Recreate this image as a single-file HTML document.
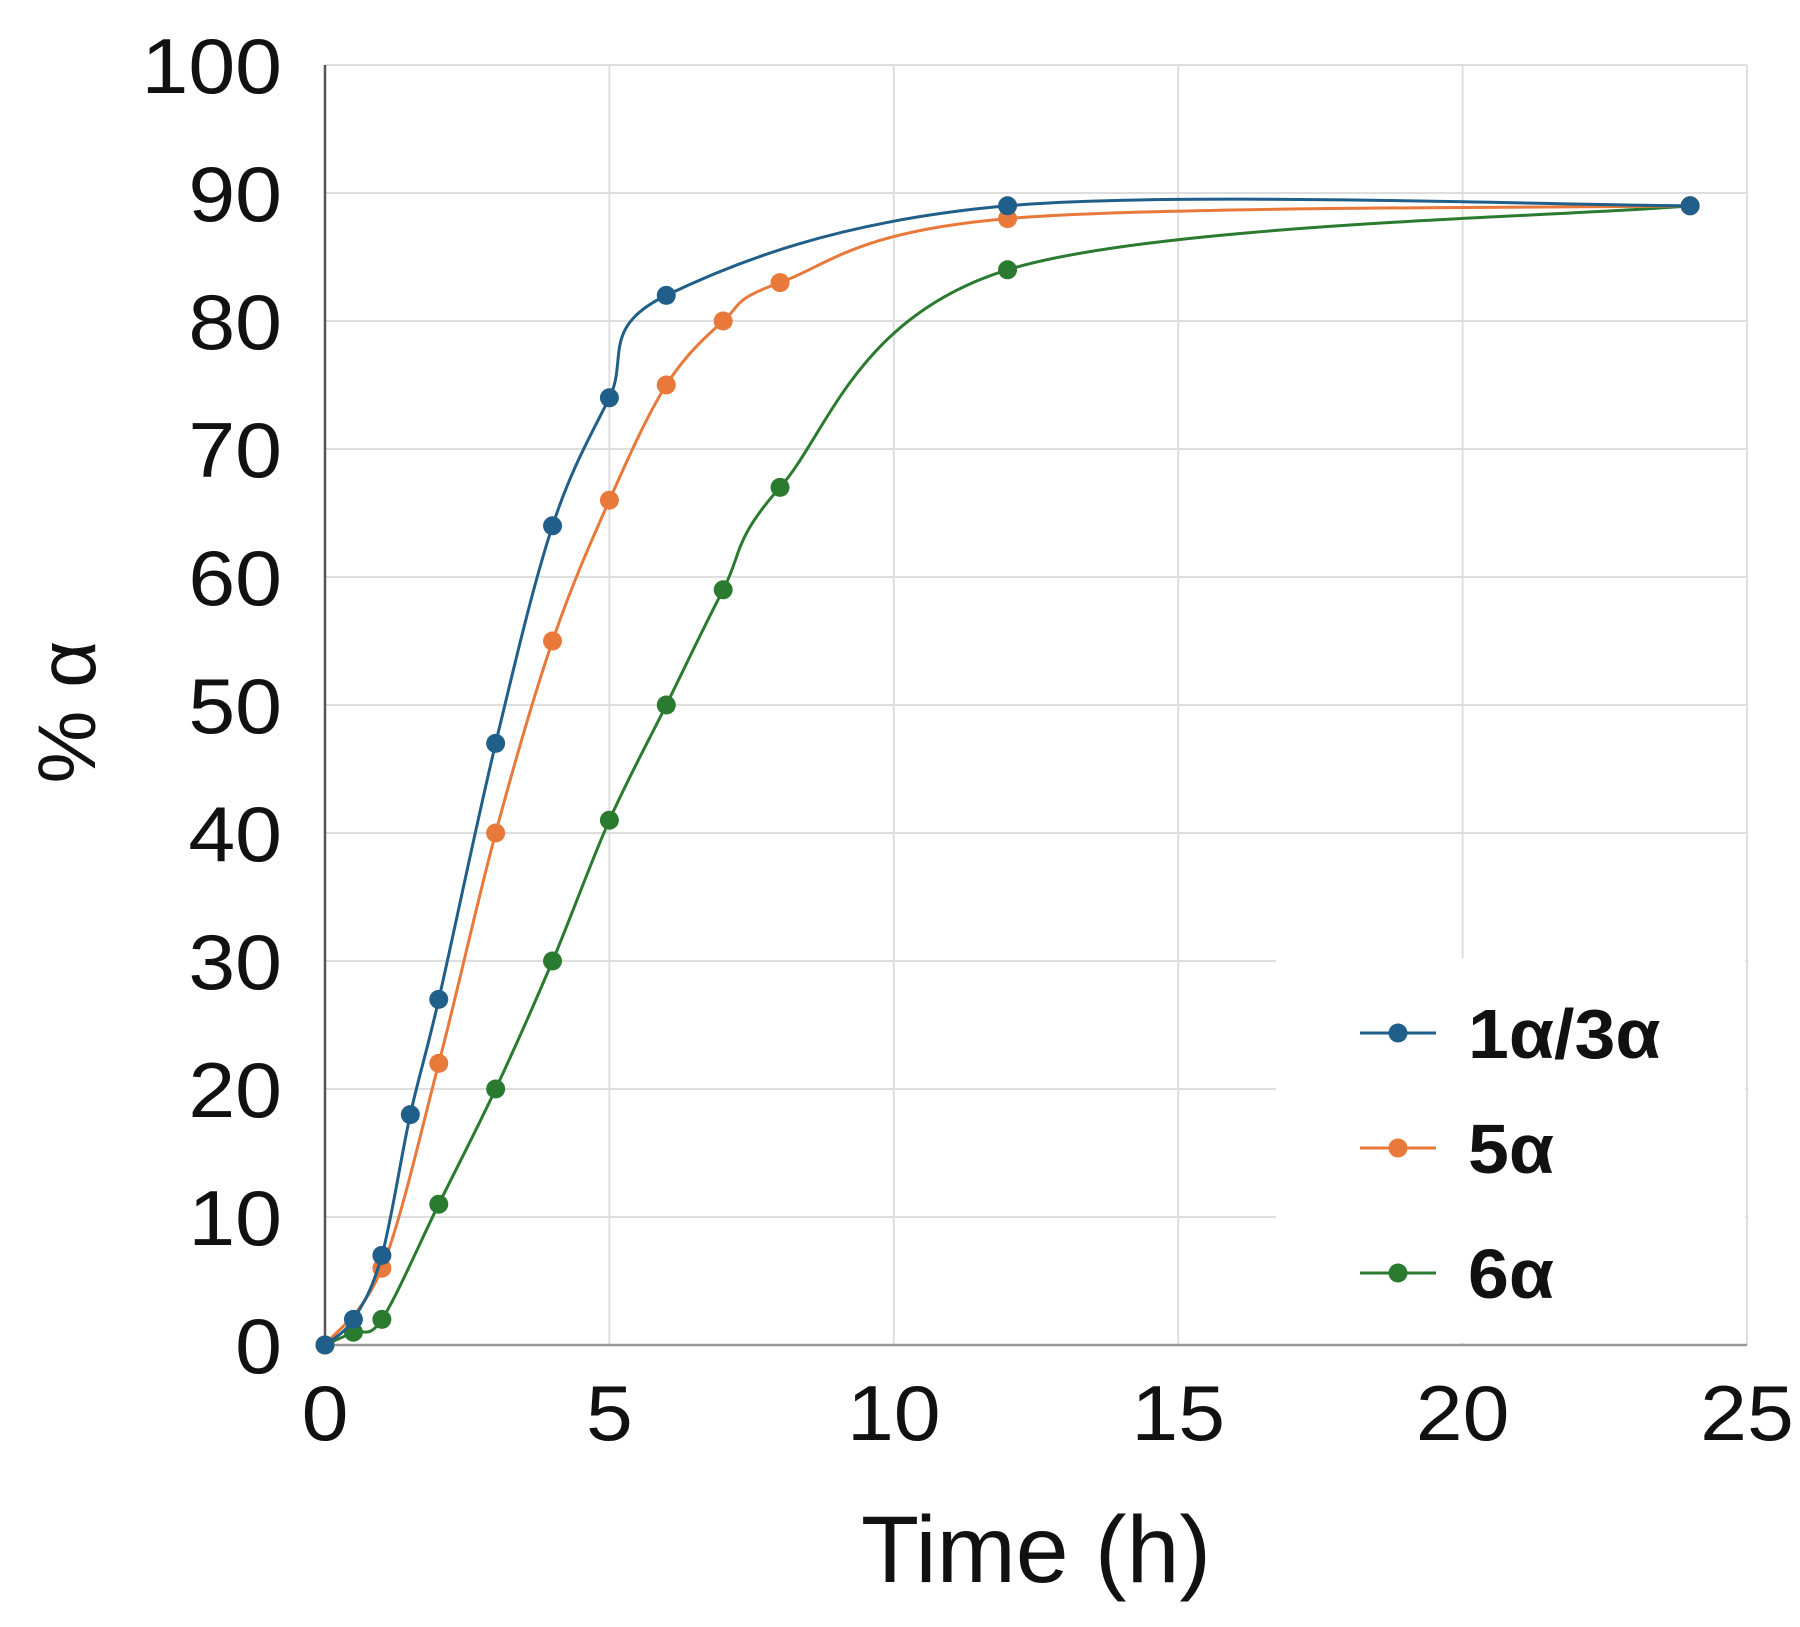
<!DOCTYPE html>
<html><head><meta charset="utf-8"><style>
html,body{margin:0;padding:0;background:#fff;}
svg{display:block;font-family:"Liberation Sans",sans-serif;}
</style></head><body>
<svg id="chart" width="1800" height="1627" viewBox="0 0 1800 1627"></svg>
<script>
const xTicks=[0,5,10,15,20,25];
const yTicks=[0,10,20,30,40,50,60,70,80,90,100];
const seriesNames=["1α/3α","5α","6α"];
const seriesColors=["#1f5f8a","#e8793a","#2a7a30"];
const xBlue=[0,0.5,1,1.5,2,3,4,5,6,12,24];
const yBlue=[0,2,7,18,27,47,64,74,82,89,89];
const xOrange=[0,1,2,3,4,5,6,7,8,12,24];
const yOrange=[0,6,22,40,55,66,75,80,83,88,89];
const xGreen=[0,0.5,1,2,3,4,5,6,7,8,12,24];
const yGreen=[0,1,2,11,20,30,41,50,59,67,84,89];

const svg=document.getElementById('chart');
const NS='http://www.w3.org/2000/svg';
const X0=325,X1=1747,Y0=1345,Y1=65;
const sx=v=>X0+(v-0)/(25-0)*(X1-X0);
const sy=v=>Y0-(v-0)/(100-0)*(Y0-Y1);
function mk(tag,attrs,parent){const e=document.createElementNS(NS,tag);for(const k in attrs)e.setAttribute(k,attrs[k]);(parent||svg).appendChild(e);return e;}

const grid=mk('g',{});


yTicks.forEach(t=>{if(t===0)return;const l=mk('line',{x1:X0,x2:X1,y1:sy(t),y2:sy(t),stroke:'#dedede','stroke-width':2},grid);

});
xTicks.forEach(t=>{if(t===0)return;const l=mk('line',{x1:sx(t),x2:sx(t),y1:Y1,y2:Y0,stroke:'#dedede','stroke-width':2},grid);

});
const lb=mk('rect',{x:1276,y:958,width:X1-1278,height:Y0-960,fill:'#fff'});



const ya=mk('line',{x1:X0,x2:X0,y1:Y1,y2:Y0,stroke:'#555','stroke-width':2.5});


const xa=mk('line',{x1:X0,x2:X1,y1:Y0,y2:Y0,stroke:'#999','stroke-width':2.5});



yTicks.forEach(t=>{const tx=mk('text',{'text-anchor':'end','font-size':78,fill:'#111',transform:`translate(282,${sy(t)+28}) scale(1.08,1)`});tx.textContent=t;

});
xTicks.forEach(t=>{const tx=mk('text',{'text-anchor':'middle','font-size':78,fill:'#111',transform:`translate(${sx(t)},1440) scale(1.08,1)`});tx.textContent=t;

});
const xt=mk('text',{x:1036,y:1582,'text-anchor':'middle','font-size':95,fill:'#111'});xt.textContent='Time (h)';


const yt=mk('text',{x:0,y:0,'text-anchor':'middle','font-size':82,fill:'#111',transform:'translate(95,712) rotate(-90)'});yt.textContent='%  α';



function smooth(xs,ys){const p=xs.map((x,i)=>[sx(x),sy(ys[i])]);let d='M'+p[0][0]+','+p[0][1];
for(let i=0;i<p.length-1;i++){const a=p[Math.max(i-1,0)],b=p[i],c=p[i+1],e=p[Math.min(i+2,p.length-1)];const k=1/6;
d+=` C${b[0]+(c[0]-a[0])*k},${b[1]+(c[1]-a[1])*k} ${c[0]-(e[0]-b[0])*k},${c[1]-(e[1]-b[1])*k} ${c[0]},${c[1]}`;}return d;}
const all=[[xGreen,yGreen],[xOrange,yOrange],[xBlue,yBlue]];
const idx=[2,1,0];
all.forEach((s,j)=>{const i=idx[j];const g=mk('g',{});


const pth=mk('path',{d:smooth(s[0],s[1]),fill:'none',stroke:seriesColors[i],'stroke-width':3},g);


s[0].forEach((x,k)=>{const c=mk('circle',{cx:sx(x),cy:sy(s[1][k]),r:9.5,fill:seriesColors[i]},g);

});});

const legY=[1033,1148,1273];
seriesNames.forEach((n,i)=>{const g=mk('g',{});


mk('line',{x1:1360,x2:1436,y1:legY[i],y2:legY[i],stroke:seriesColors[i],'stroke-width':3},g);
mk('circle',{cx:1398,cy:legY[i],r:9.5,fill:seriesColors[i]},g);
const t=mk('text',{'font-size':70,'font-weight':'bold',fill:'#111',transform:`translate(1468,${legY[i]+25}) scale(1.05,1)`},g);t.textContent=n;});
</script>
</body></html>
